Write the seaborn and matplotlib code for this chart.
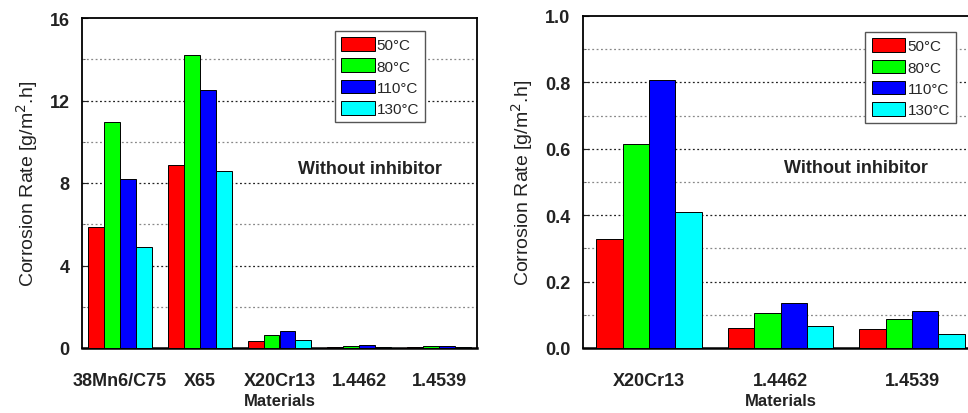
import numpy as np
import pandas as pd
import matplotlib
matplotlib.use("Agg")
import matplotlib.pyplot as plt
import seaborn as sns
from matplotlib.ticker import MultipleLocator

# ---- data ----
temps = ["50°C", "80°C", "110°C", "130°C"]
colors = ["#ff0000", "#00ff00", "#0000ff", "#00ffff"]

mats_left = ["38Mn6/C75", "X65", "X20Cr13", "1.4462", "1.4539"]
left_50 = [5.86, 8.85, 0.33, 0.060, 0.056]
left_80 = [10.96, 14.21, 0.62, 0.105, 0.087]
left_110 = [8.17, 12.53, 0.81, 0.136, 0.112]
left_130 = [4.89, 8.59, 0.41, 0.067, 0.041]

mats_right = ["X20Cr13", "1.4462", "1.4539"]
right_50 = [0.329, 0.060, 0.056]
right_80 = [0.615, 0.105, 0.087]
right_110 = [0.808, 0.136, 0.112]
right_130 = [0.409, 0.067, 0.041]

annotation = "Without inhibitor"
ylabel = "Corrosion Rate [g/m$^{2}$.h]"
xlabel = "Materials"


def long_df(mats, series):
    rows = []
    for t, vals in zip(temps, series):
        for m, v in zip(mats, vals):
            rows.append({"Material": m, "Temp": t, "Rate": v})
    return pd.DataFrame(rows)


df_left = long_df(mats_left, [left_50, left_80, left_110, left_130])
df_right = long_df(mats_right, [right_50, right_80, right_110, right_130])

sns.set_style("white")
plt.rcParams["font.family"] = ["Liberation Sans", "DejaVu Sans"]

fig = plt.figure(figsize=(9.68, 4.14), dpi=100)
axL = fig.add_axes([82 / 968, 65 / 414, 395 / 968, 330 / 414])
axR = fig.add_axes([583 / 968, 65 / 414, 395 / 968, 332 / 414])


def draw(ax, df, mats, ymax, major, minor, xlim, fmt, leg_anchor, text_xy):
    sns.barplot(data=df, x="Material", y="Rate", hue="Temp", order=mats,
                hue_order=temps, palette=colors, edgecolor="black",
                linewidth=0.7, width=0.8, saturation=1, errorbar=None, ax=ax,
                zorder=3)
    ax.set_ylim(0, ymax)
    ax.set_xlim(*xlim)
    ax.yaxis.set_major_locator(MultipleLocator(major))
    ax.yaxis.set_minor_locator(MultipleLocator(minor))
    ax.yaxis.set_major_formatter(fmt)
    ax.grid(False)
    for y in np.arange(minor, ymax - 1e-9, minor):
        is_major = abs(round(y / major) * major - y) < 1e-9
        ax.axhline(y, color="#222222" if is_major else "#888888",
                   linestyle=(0, (1.5, 2)), linewidth=0.9, zorder=1)
    for s in ax.spines.values():
        s.set_color("black")
        s.set_linewidth(1.3)
        s.set_visible(True)
    ax.spines["bottom"].set_linewidth(1.8)
    ax.tick_params(axis="y", which="both", direction="in", left=True,
                   labelsize=13, pad=9, length=4)
    ax.tick_params(axis="y", which="minor", length=2.5)
    ax.tick_params(axis="x", bottom=False, labelsize=13, pad=14)
    for lab in ax.get_xticklabels() + ax.get_yticklabels():
        lab.set_fontweight("bold")
        lab.set_color("#222222")
    ax.set_xlabel(xlabel, fontsize=12, fontweight="bold", labelpad=3,
                  color="#222222")
    ax.set_ylabel(ylabel, fontsize=14, labelpad=7, color="#222222")
    ax.text(text_xy[0], text_xy[1], annotation, transform=ax.transAxes,
            fontsize=13, fontweight="bold", ha="center", va="center",
            color="#222222")
    leg = ax.legend(loc="upper left", bbox_to_anchor=leg_anchor,
                    fontsize=11, frameon=True, fancybox=False,
                    handlelength=2.2, handleheight=1.0, handletextpad=0.15,
                    labelspacing=0.4, borderpad=0.4, borderaxespad=0)
    leg.get_frame().set_edgecolor("#555555")
    leg.get_frame().set_linewidth(1.0)
    leg.get_frame().set_alpha(1)
    leg.set_zorder(5)


draw(axL, df_left, mats_left, 16, 4, 2, (-0.476, 4.476),
     lambda v, p: f"{v:.0f}", (0.640, 0.960), (0.73, 0.545))
draw(axR, df_right, mats_right, 1.0, 0.2, 0.1, (-0.502, 2.502),
     lambda v, p: f"{v:.1f}", (0.715, 0.951), (0.69, 0.545))

fig.savefig("out.png", dpi=100)
